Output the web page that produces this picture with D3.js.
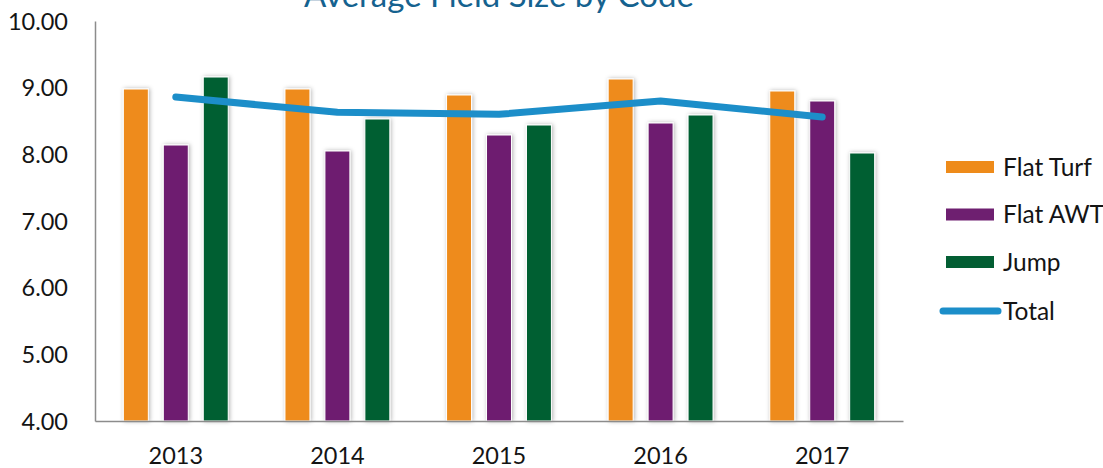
<!DOCTYPE html>
<html>
<head>
<meta charset="utf-8">
<title>Average Field Size by Code</title>
<script src="https://d3js.org/d3.v7.min.js"></script>
<style>
    body { margin: 0; background: #fff; font-family: Lato, "Open Sans", sans-serif; }
    svg text { font-family: Lato, "Open Sans", sans-serif; }
    .tick-label { font-size: 23.5px; fill: #141414; }
    .legend text { font-size: 24.5px; fill: #141414; }
</style>
</head>
<body>
<div id="chart"></div>
<script>
const years = ["2013", "2014", "2015", "2016", "2017"];
const seriesNames = ["Flat Turf", "Flat AWT", "Jump"];
const flatTurf = [8.98, 8.98, 8.89, 9.13, 8.95];
const flatAWT = [8.14, 8.05, 8.29, 8.47, 8.80];
const jump = [9.16, 8.53, 8.44, 8.59, 8.02];
const total = [8.86, 8.63, 8.60, 8.80, 8.56];
const yTicks = [4, 5, 6, 7, 8, 9, 10];

const colors = { "Flat Turf": "#ee8b1a", "Flat AWT": "#6e1f70", "Jump": "#035e33" };
const lineColor = "#1c8ec9";

const width = 1103, height = 468;
const margin = { top: 21, right: 200, bottom: 47, left: 95 };

const svg = d3.select("#chart").append("svg")
    .attr("width", width)
    .attr("height", height);

const defs = svg.append("defs");
const shadow = defs.append("filter").attr("id", "shadow")
    .attr("x", "-40%").attr("y", "-10%").attr("width", "180%").attr("height", "120%");
shadow.append("feDropShadow")
    .attr("dx", 1).attr("dy", 0).attr("stdDeviation", 2)
    .attr("flood-color", "#000").attr("flood-opacity", 0.3);

const x0 = d3.scaleBand()
    .domain(years)
    .range([margin.left, 903])
    .padding(0);

const x1 = d3.scaleBand()
    .domain(seriesNames)
    .range([0, x0.bandwidth()])
    .paddingInner(0.375)
    .paddingOuter(0.71);

const y = d3.scaleLinear()
    .domain([4, 10])
    .range([height - margin.bottom, margin.top]);

const table = years.map((yr, i) => ({
    year: yr,
    values: [
        { key: "Flat Turf", value: flatTurf[i] },
        { key: "Flat AWT", value: flatAWT[i] },
        { key: "Jump", value: jump[i] }
    ]
}));

// title, mostly cut off at the top like the original
svg.append("text")
    .attr("x", (margin.left + 903) / 2)
    .attr("y", 7)
    .attr("text-anchor", "middle")
    .attr("fill", "#15628f")
    .style("font-size", "33px")
    .text("Average Field Size by Code");

// bars
const groups = svg.append("g").selectAll("g")
    .data(table)
    .join("g")
    .attr("transform", d => `translate(${x0(d.year)},0)`);

groups.selectAll("rect")
    .data(d => d.values)
    .join("rect")
    .attr("x", d => x1(d.key))
    .attr("y", d => y(d.value))
    .attr("width", x1.bandwidth())
    .attr("height", d => y(4) - y(d.value))
    .attr("fill", d => colors[d.key])
    .attr("stroke", "#fff")
    .attr("stroke-width", 1)
    .attr("filter", "url(#shadow)");

// axes
const yAxis = d3.axisLeft(y).tickValues(yTicks).tickSize(0).tickPadding(27)
    .tickFormat(d3.format(".2f"));
const yAxisG = svg.append("g")
    .attr("transform", `translate(${margin.left},0)`)
    .call(yAxis);
yAxisG.select(".domain").attr("stroke", "#8c8c8c").attr("stroke-width", 1.5);
yAxisG.selectAll("text").attr("class", "tick-label").attr("dy", "0.35em");

const xAxis = d3.axisBottom(x0).tickSize(0).tickPadding(26);
const xAxisG = svg.append("g")
    .attr("transform", `translate(0,${y(4)})`)
    .call(xAxis);
xAxisG.select(".domain").attr("stroke", "#8c8c8c").attr("stroke-width", 1.5);
xAxisG.selectAll("text").attr("class", "tick-label");

// total line
const line = d3.line()
    .x((d, i) => x0(years[i]) + x0.bandwidth() / 2)
    .y(d => y(d));

svg.append("path")
    .datum(total)
    .attr("d", line)
    .attr("fill", "none")
    .attr("stroke", lineColor)
    .attr("stroke-width", 7)
    .attr("stroke-linecap", "round")
    .attr("stroke-linejoin", "round");

// legend
const legend = svg.append("g").attr("class", "legend");
const legendY = [167, 214.5, 262, 311];

seriesNames.forEach((name, i) => {
    const g = legend.append("g").attr("transform", `translate(946,${legendY[i]})`);
    g.append("rect")
        .attr("x", 0).attr("y", -6)
        .attr("width", 48).attr("height", 12)
        .attr("fill", colors[name]);
    g.append("text")
        .attr("x", 57).attr("dy", "0.35em")
        .text(name);
});

const lg = legend.append("g").attr("transform", `translate(946,${legendY[3]})`);
lg.append("line")
    .attr("x1", -3).attr("x2", 52)
    .attr("stroke", lineColor)
    .attr("stroke-width", 7)
    .attr("stroke-linecap", "round");
lg.append("text")
    .attr("x", 57).attr("dy", "0.35em")
    .text("Total");
</script>
</body>
</html>
